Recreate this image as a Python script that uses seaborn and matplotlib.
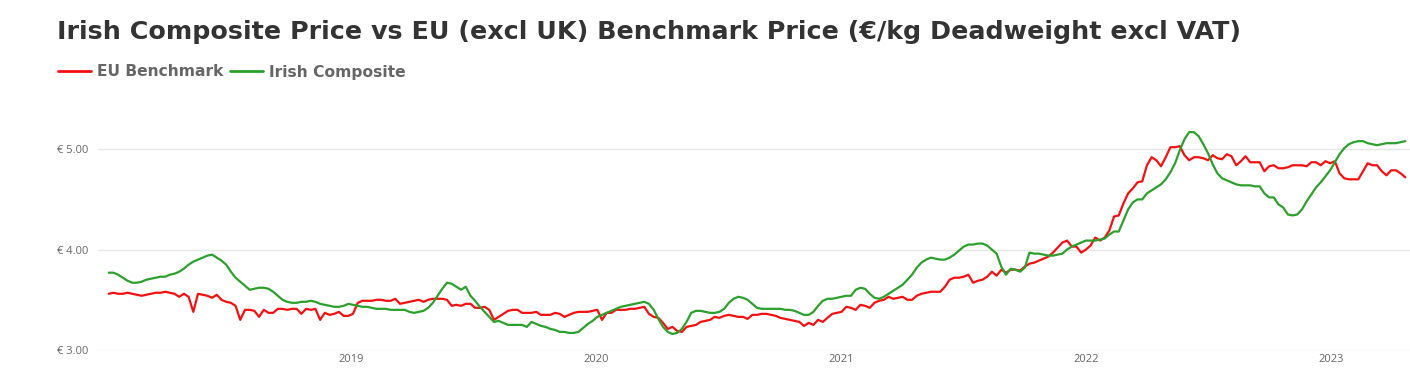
import matplotlib
matplotlib.use("Agg")
import matplotlib.pyplot as plt
import matplotlib.dates as mdates
import seaborn as sns
import pandas as pd

# weekly prices, first week ending 2018-01-05
start_date = "2018-01-05"

eu_benchmark = [
    3.56, 3.57, 3.56, 3.56, 3.57, 3.56, 3.55, 3.54, 3.55, 3.56, 3.57, 3.57, 3.58,
    3.57, 3.56, 3.53, 3.56, 3.53, 3.38, 3.56, 3.55, 3.54, 3.52, 3.55, 3.50, 3.48,
    3.47, 3.44, 3.30, 3.40, 3.40, 3.39, 3.33, 3.40, 3.37, 3.37, 3.41, 3.41, 3.40,
    3.41, 3.41, 3.36, 3.41, 3.40, 3.41, 3.30, 3.37, 3.35, 3.36, 3.38, 3.34, 3.34,
    3.36, 3.47, 3.49, 3.49, 3.49, 3.50, 3.50, 3.49, 3.49, 3.51, 3.46, 3.47, 3.48,
    3.49, 3.50, 3.48, 3.50, 3.51, 3.51, 3.51, 3.50, 3.44, 3.45, 3.44, 3.46,
    3.46, 3.42, 3.42, 3.43, 3.40, 3.30, 3.33, 3.36, 3.39, 3.40, 3.40, 3.37, 3.37,
    3.37, 3.38, 3.35, 3.35, 3.35, 3.37, 3.36, 3.33, 3.35, 3.37, 3.38, 3.38, 3.38,
    3.39, 3.40, 3.30, 3.37, 3.37, 3.40, 3.40, 3.40, 3.41, 3.41, 3.42, 3.43, 3.36,
    3.33, 3.32, 3.27, 3.21, 3.23, 3.19, 3.18, 3.23, 3.24, 3.25, 3.28, 3.29, 3.30,
    3.33, 3.32, 3.34, 3.35, 3.34, 3.33, 3.33, 3.31, 3.35, 3.35, 3.36, 3.36, 3.35,
    3.34, 3.32, 3.31, 3.30, 3.29, 3.28, 3.24, 3.27, 3.25, 3.30, 3.28, 3.32, 3.36,
    3.37, 3.38, 3.43, 3.42, 3.40, 3.45, 3.44, 3.42, 3.47, 3.49, 3.50, 3.53, 3.51,
    3.52, 3.53, 3.50, 3.50, 3.54, 3.56, 3.57, 3.58, 3.58,
    3.58, 3.63, 3.70, 3.72, 3.72, 3.73, 3.75, 3.67, 3.69, 3.70, 3.73, 3.78, 3.74,
    3.80, 3.77, 3.80, 3.80, 3.79, 3.83, 3.86, 3.87, 3.89, 3.91, 3.93, 3.97, 4.02,
    4.07, 4.09, 4.03, 4.03, 3.97, 4.00, 4.04, 4.12, 4.09, 4.12, 4.19, 4.33, 4.34,
    4.46, 4.56, 4.61, 4.67, 4.68, 4.84, 4.92, 4.89, 4.83, 4.92, 5.02, 5.02, 5.03,
    4.94, 4.89, 4.92, 4.92, 4.91, 4.89, 4.94, 4.91, 4.90, 4.95, 4.93, 4.84, 4.88,
    4.93, 4.87, 4.87, 4.87, 4.78, 4.83, 4.84, 4.81, 4.81, 4.82, 4.84, 4.84, 4.84,
    4.83, 4.87, 4.87, 4.84, 4.88, 4.86, 4.88, 4.76, 4.71, 4.70, 4.70, 4.70, 4.78,
    4.86, 4.84, 4.84, 4.78, 4.74, 4.79, 4.79, 4.76, 4.72,
]

irish_composite = [
    3.77, 3.77, 3.75, 3.72, 3.69, 3.67, 3.67, 3.68, 3.70, 3.71, 3.72, 3.73, 3.73,
    3.75, 3.76, 3.78, 3.81, 3.85, 3.88, 3.90, 3.92, 3.94, 3.95, 3.92, 3.89, 3.85,
    3.78, 3.72, 3.68, 3.64, 3.60, 3.61, 3.62, 3.62, 3.61, 3.58, 3.54, 3.50, 3.48,
    3.47, 3.47, 3.48, 3.48, 3.49, 3.48, 3.46, 3.45, 3.44, 3.43, 3.43, 3.44, 3.46,
    3.45, 3.44, 3.43, 3.43, 3.42, 3.41, 3.41, 3.41, 3.40, 3.40, 3.40, 3.40, 3.38,
    3.37, 3.38, 3.39, 3.42, 3.47, 3.54, 3.61, 3.67, 3.66, 3.63, 3.60, 3.63,
    3.54, 3.49, 3.43, 3.38, 3.33, 3.28, 3.29, 3.27, 3.25, 3.25, 3.25, 3.25, 3.23,
    3.28, 3.26, 3.24, 3.23, 3.21, 3.20, 3.18, 3.18, 3.17, 3.17, 3.18, 3.22, 3.26,
    3.29, 3.33, 3.35, 3.37, 3.39, 3.41, 3.43, 3.44, 3.45, 3.46, 3.47, 3.48, 3.46,
    3.40, 3.31, 3.23, 3.18, 3.16, 3.17, 3.21, 3.28, 3.37, 3.39, 3.39, 3.38, 3.37,
    3.37, 3.38, 3.41, 3.47, 3.51, 3.53, 3.52, 3.50, 3.46, 3.42, 3.41, 3.41, 3.41,
    3.41, 3.41, 3.40, 3.40, 3.39, 3.37, 3.35, 3.35, 3.38, 3.44, 3.49, 3.51, 3.51,
    3.52, 3.53, 3.54, 3.54, 3.60, 3.62, 3.61, 3.56, 3.52, 3.51, 3.53, 3.56, 3.59,
    3.62, 3.65, 3.70, 3.75, 3.82, 3.87, 3.90, 3.92, 3.91,
    3.90, 3.90, 3.92, 3.95, 3.99, 4.03, 4.05, 4.05, 4.06, 4.06, 4.04, 4.00, 3.96,
    3.83, 3.75, 3.81, 3.80, 3.78, 3.82, 3.97, 3.96, 3.96, 3.95, 3.94, 3.94, 3.95,
    3.96, 4.00, 4.03, 4.05, 4.07, 4.09, 4.09, 4.09, 4.10, 4.11, 4.15, 4.18, 4.18,
    4.29, 4.40, 4.47, 4.50, 4.50, 4.56, 4.59, 4.62, 4.65, 4.70, 4.77, 4.86, 4.99,
    5.10, 5.17, 5.17, 5.13, 5.05, 4.96, 4.85, 4.76, 4.71, 4.69, 4.67, 4.65, 4.64,
    4.64, 4.64, 4.63, 4.63, 4.56, 4.52, 4.52, 4.45, 4.42, 4.35, 4.34, 4.35, 4.40,
    4.48, 4.55, 4.62, 4.67, 4.73, 4.79, 4.87, 4.95, 5.01, 5.05, 5.07, 5.08, 5.08,
    5.06, 5.05, 5.04, 5.05, 5.06, 5.06, 5.06, 5.07, 5.08,
]

series_names = ["EU Benchmark", "Irish Composite"]
series_colors = ["#f41010", "#2ca02c"]
y_ticks = [3.0, 4.0, 5.0]
x_tick_years = [2019, 2020, 2021, 2022, 2023]

dates = pd.date_range(start_date, periods=len(eu_benchmark), freq="7D")
df = pd.DataFrame({
    "date": list(dates) * 2,
    "price": eu_benchmark + irish_composite,
    "series": [series_names[0]] * len(dates) + [series_names[1]] * len(dates),
})

sns.set_theme(style="white")
plt.rcParams["font.family"] = ["DejaVu Sans"]

fig = plt.figure(figsize=(14.1, 3.71), dpi=100)
ax = fig.add_axes([98 / 1410, 21 / 371, 1 - 98 / 1410, 251 / 371])

sns.lineplot(data=df, x="date", y="price", hue="series", hue_order=series_names,
             palette=series_colors, linewidth=1.6, ax=ax, legend=False)

ax.set_xlim(pd.Timestamp("2017-12-20"), pd.Timestamp("2023-04-28"))
ax.set_ylim(3.0, 5.5)
ax.set_yticks(y_ticks)
ax.set_yticklabels([f"€ {v:.2f}" for v in y_ticks], fontsize=8, color="#666666",
                   family="Open Sans")
ax.set_xticks([pd.Timestamp(f"{y}-01-01") for y in x_tick_years])
ax.xaxis.set_major_formatter(mdates.DateFormatter("%Y"))
for lbl in ax.get_xticklabels():
    lbl.set_fontsize(8)
    lbl.set_color("#666666")
    lbl.set_family("Open Sans")
ax.tick_params(axis="x", length=0, pad=3)
ax.tick_params(axis="y", length=0, pad=7)
ax.set_xlabel("")
ax.set_ylabel("")
ax.grid(axis="y", color="#e6e6e6", linewidth=1)
ax.grid(axis="x", visible=False)
for s in ax.spines.values():
    s.set_visible(False)

fig.text(57 / 1410, 1 - 32 / 371, "Irish Composite Price vs EU (excl UK) Benchmark Price (€/kg Deadweight excl VAT)",
         fontsize=18.3, fontweight="bold", color="#333333", family="DejaVu Sans",
         va="center", ha="left")

handles = [plt.Line2D([], [], color=c, linewidth=2) for c in series_colors]
fig.legend(handles, series_names, loc="center left", bbox_to_anchor=(44 / 1410, 1 - 72 / 371),
           ncol=2, frameon=False, handlelength=2.1, handletextpad=0.4, columnspacing=0.45,
           prop={"family": "DejaVu Sans", "weight": "bold", "size": 11.2},
           labelcolor="#666666")

fig.savefig("out.png", dpi=100)
